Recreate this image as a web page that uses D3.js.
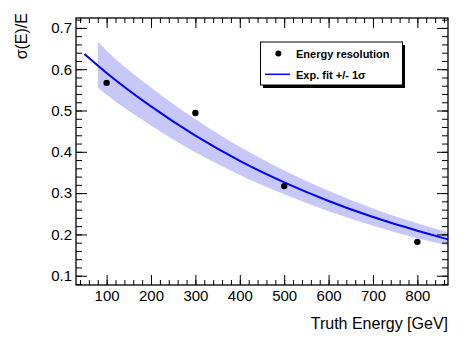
<!DOCTYPE html>
<html>
<head>
<meta charset="utf-8">
<script src="https://cdn.jsdelivr.net/npm/d3@7"></script>
<style>
  html, body { margin: 0; padding: 0; background: #fff; }
  svg { display: block; font-family: "Liberation Sans", Arial, Helvetica, sans-serif; }
</style>
</head>
<body>
<svg id="chart" width="473" height="341"></svg>
<script>
// ---- data ----
const pointEnergy = [100, 300, 500, 800];
const pointResolution = [0.567, 0.494, 0.317, 0.182];

const fitEnergy = [50, 100, 200, 300, 400, 500, 600, 700, 800, 869];
const fitValue  = [0.637, 0.591, 0.510, 0.439, 0.378, 0.326, 0.281, 0.242, 0.209, 0.188];

const bandEnergy = [80, 100, 200, 300, 400, 500, 600, 700, 800, 869];
const bandHigh   = [0.667, 0.645, 0.556, 0.479, 0.412, 0.355, 0.306, 0.263, 0.227, 0.205];
const bandLow    = [0.556, 0.538, 0.464, 0.399, 0.344, 0.297, 0.256, 0.221, 0.191, 0.173];

const xTickValues = [100, 200, 300, 400, 500, 600, 700, 800];
const yTickValues = [0.1, 0.2, 0.3, 0.4, 0.5, 0.6, 0.7];
const xMinorTicks = d3.range(40, 869, 20);
const yMinorTicks = d3.range(0.08, 0.724, 0.02);

const xTitle = "Truth Energy [GeV]";
const yTitle = "σ(E)/E";
const legendLabels = ["Energy resolution", "Exp. fit +/- 1σ"];

// ---- layout ----
const L = 76, R = 448, T = 18, B = 285;
const svg = d3.select("#chart");
const x = d3.scaleLinear().domain([31, 869]).range([L, R]);
const y = d3.scaleLinear().domain([0.0775, 0.724]).range([B, T]);

// band
const band = bandEnergy.map((e, i) => ({e, lo: bandLow[i], hi: bandHigh[i]}));
svg.append("path")
  .datum(band)
  .attr("fill", "#c8c8f8")
  .attr("d", d3.area().x(d => x(d.e)).y0(d => y(d.lo)).y1(d => y(d.hi)).curve(d3.curveMonotoneX));

// fit line
const fit = fitEnergy.map((e, i) => ({e, v: fitValue[i]}));
svg.append("path")
  .datum(fit)
  .attr("fill", "none")
  .attr("stroke", "#0000ff")
  .attr("stroke-width", 2)
  .attr("d", d3.line().x(d => x(d.e)).y(d => y(d.v)).curve(d3.curveMonotoneX));

// points
svg.selectAll("circle.pt")
  .data(pointEnergy.map((e, i) => ({e, v: pointResolution[i]})))
  .join("circle")
  .attr("class", "pt")
  .attr("cx", d => x(d.e)).attr("cy", d => y(d.v)).attr("r", 3.2)
  .attr("fill", "#000");

// axes
function styleAxis(g) {
  g.select(".domain").remove();
  g.selectAll("line").attr("stroke", "#000").attr("stroke-width", 1);
  g.selectAll("text").attr("font-size", 15).attr("fill", "#000");
}
// bottom
svg.append("g").attr("transform", `translate(0,${B})`)
  .call(d3.axisBottom(x).tickValues(xMinorTicks).tickSize(-5).tickFormat(""))
  .call(styleAxis);
svg.append("g").attr("transform", `translate(0,${B})`)
  .call(d3.axisBottom(x).tickValues(xTickValues).tickSize(-10).tickPadding(5).tickFormat(d3.format("d")))
  .call(styleAxis);
// top
svg.append("g").attr("transform", `translate(0,${T})`)
  .call(d3.axisTop(x).tickValues(xMinorTicks).tickSize(-5).tickFormat(""))
  .call(styleAxis);
svg.append("g").attr("transform", `translate(0,${T})`)
  .call(d3.axisTop(x).tickValues(xTickValues).tickSize(-10).tickFormat(""))
  .call(styleAxis);
// left
svg.append("g").attr("transform", `translate(${L},0)`)
  .call(d3.axisLeft(y).tickValues(yMinorTicks).tickSize(-6).tickFormat(""))
  .call(styleAxis);
svg.append("g").attr("transform", `translate(${L},0)`)
  .call(d3.axisLeft(y).tickValues(yTickValues).tickSize(-11).tickPadding(4).tickFormat(d3.format(".1f")))
  .call(styleAxis);
// right
svg.append("g").attr("transform", `translate(${R},0)`)
  .call(d3.axisRight(y).tickValues(yMinorTicks).tickSize(-6).tickFormat(""))
  .call(styleAxis);
svg.append("g").attr("transform", `translate(${R},0)`)
  .call(d3.axisRight(y).tickValues(yTickValues).tickSize(-11).tickFormat(""))
  .call(styleAxis);

// frame
svg.append("rect").attr("x", L).attr("y", T).attr("width", R - L).attr("height", B - T)
  .attr("fill", "none").attr("stroke", "#000").attr("stroke-width", 1.3);

// titles
svg.append("text").attr("x", R).attr("y", 329).attr("text-anchor", "end")
  .attr("font-size", 16).text(xTitle);
svg.append("text").attr("transform", "translate(27,13) rotate(-90)").attr("text-anchor", "end")
  .attr("font-size", 16).text(yTitle);

// legend
const lg = svg.append("g");
lg.append("rect").attr("x", 263).attr("y", 45).attr("width", 142).attr("height", 43).attr("fill", "#000");
lg.append("rect").attr("x", 260.5).attr("y", 42).attr("width", 142).attr("height", 43)
  .attr("fill", "#fff").attr("stroke", "#000").attr("stroke-width", 1);
lg.append("circle").attr("cx", 278.3).attr("cy", 53.5).attr("r", 3).attr("fill", "#000");
lg.append("line").attr("x1", 265).attr("x2", 290).attr("y1", 74.3).attr("y2", 74.3)
  .attr("stroke", "#0000ff").attr("stroke-width", 1.5);
lg.append("text").attr("x", 296).attr("y", 57.5).attr("font-size", 11).attr("font-weight", "bold").text(legendLabels[0]);
lg.append("text").attr("x", 296).attr("y", 78.5).attr("font-size", 11).attr("font-weight", "bold").text(legendLabels[1]);
</script>
</body>
</html>
